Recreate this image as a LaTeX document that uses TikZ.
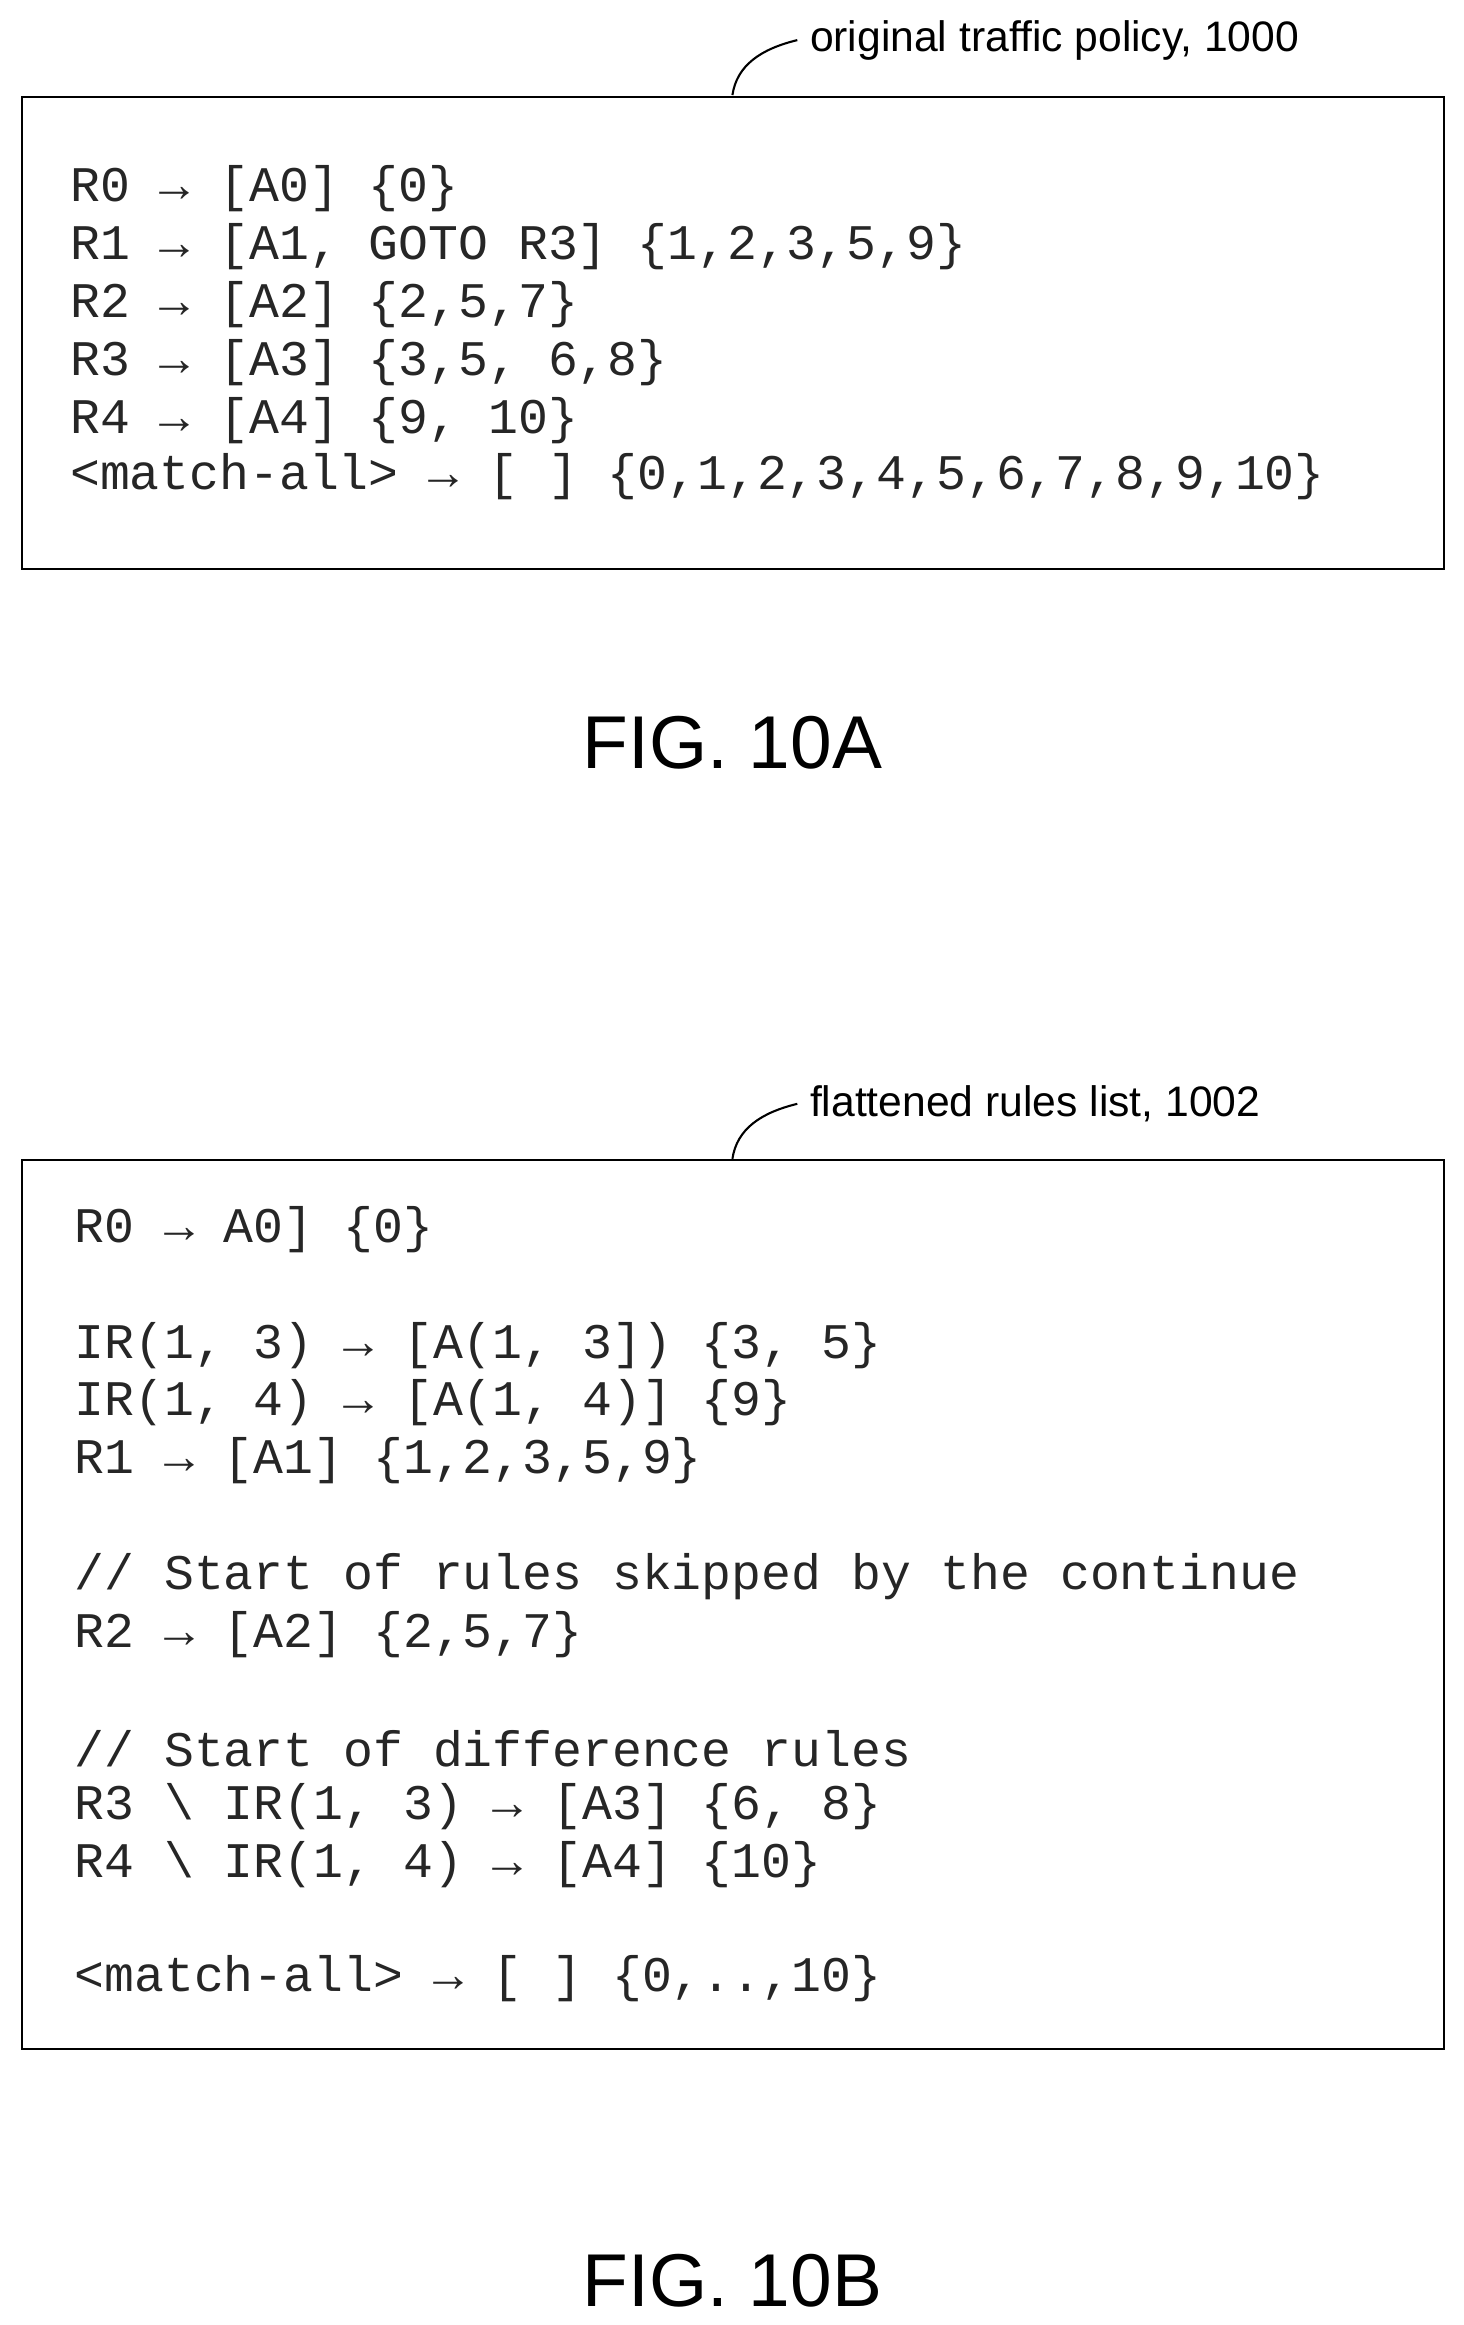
\documentclass[tikz,border=0pt]{standalone}
\usepackage{fontspec}
\setmainfont{Liberation Sans}
\newfontfamily\codefont{Liberation Mono}
\usetikzlibrary{positioning}
\begin{document}
\begin{tikzpicture}[x=0.03cm, y=-0.03cm]
	
	\tikzstyle{rulebox}=[draw=black, line width=1.2pt]
	\tikzstyle{codeline}=[anchor=west, inner sep=0pt, text=black!85, font=\codefont\fontsize{28.6}{30}\selectfont]
	\tikzstyle{tag}=[anchor=west, inner sep=0pt, font=\fontsize{24.5}{27}\selectfont]
	\tikzstyle{figlabel}=[inner sep=0pt, font=\fontsize{43}{48}\selectfont]
	
	\useasboundingbox (0,0) rectangle (985,1565);
	
	% FIG. 10A
	\draw [rulebox] (15,65) rectangle (972,383);
	\coordinate (pa) at (493,64);
	\node (tpolicy) at (545,27) [tag] {original traffic policy, 1000};
	\draw [line width=1.2pt] (pa) .. controls (496,44) and (512,33) .. ([xshift=-0.25cm]tpolicy.west);
	
	\node (a0) at (47,127) [codeline] {R0 → [A0] \{0\}};
	\node (a1) at (47,166) [codeline] {R1 → [A1, GOTO R3] \{1,2,3,5,9\}};
	\node (a2) at (47,205) [codeline] {R2 → [A2] \{2,5,7\}};
	\node (a3) at (47,244) [codeline] {R3 → [A3] \{3,5, 6,8\}};
	\node (a4) at (47,283) [codeline] {R4 → [A4] \{9, 10\}};
	\node (a5) at (47,321) [codeline] {<match-all> → [ ] \{0,1,2,3,4,5,6,7,8,9,10\}};
	
	\node (figa) at (493,500) [figlabel] {FIG. 10A};
	
	% FIG. 10B
	\draw [rulebox] (15,781) rectangle (972,1379);
	\coordinate (pb) at (493,780);
	\node (tflat) at (545,743) [tag] {flattened rules list, 1002};
	\draw [line width=1.2pt] (pb) .. controls (496,760) and (512,749) .. ([xshift=-0.25cm]tflat.west);
	
	\node (b0) at (50,828) [codeline] {R0 → A0] \{0\}};
	\node (b1) at (50,906) [codeline] {IR(1, 3) → [A(1, 3]) \{3, 5\}};
	\node (b2) at (50,944) [codeline] {IR(1, 4) → [A(1, 4)] \{9\}};
	\node (b3) at (50,983) [codeline] {R1 → [A1] \{1,2,3,5,9\}};
	\node (b4) at (50,1061) [codeline] {// Start of rules skipped by the continue};
	\node (b5) at (50,1100) [codeline] {R2 → [A2] \{2,5,7\}};
	\node (b6) at (50,1177) [codeline] {// Start of difference rules};
	\node (b7) at (50,1216) [codeline] {R3 \textbackslash{} IR(1, 3) → [A3] \{6, 8\}};
	\node (b8) at (50,1255) [codeline] {R4 \textbackslash{} IR(1, 4) → [A4] \{10\}};
	\node (b9) at (50,1332) [codeline] {<match-all> → [ ] \{0,..,10\}};
	
	\node (figb) at (493,1535) [figlabel] {FIG. 10B};
	
\end{tikzpicture}
\end{document}
